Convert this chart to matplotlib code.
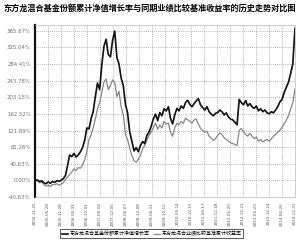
import matplotlib
matplotlib.use('Agg')
import matplotlib.pyplot as plt
import pandas as pd

plt.rcParams['font.family'] = ['Noto Sans CJK SC', 'DejaVu Sans']

title = '东方龙混合基金份额累计净值增长率与同期业绩比较基准收益率的历史走势对比图'
fund_label = '东方龙混合基金份额累计净值增长率'
bench_label = '东方龙混合业绩比较基准累计收益率'

# month-end points, first one is the fund start date
dates = [pd.Timestamp('2004-11-25')] + list(pd.date_range('2004-12-31', '2014-12-31', freq='ME'))

# cumulative NAV growth (%)
fund = [0, 1, -3, -1, -6, -8, -4, -7, -3, -5, -1, -2, 0, 4, 12, 35, 62, 58, 66, 57,
        62, 70, 80, 98, 128, 126, 152, 168, 205, 238, 222, 282, 328, 345, 308, 302, 342, 365, 300, 285,
        250, 232, 186, 165, 118, 95, 72, 80, 70, 86, 95, 90, 110, 118, 132, 150, 162, 146, 166, 158,
        175, 170, 180, 152, 138, 160, 176, 170, 182, 176, 190, 196, 186, 180, 188, 194, 200, 185, 178, 172,
        180, 168, 162, 158, 164, 166, 172, 168, 160, 165, 155, 150, 148, 142, 136, 198, 190, 185, 195, 182,
        188, 180, 176, 182, 170, 175, 168, 172, 165, 163, 168, 165, 172, 180, 192, 198, 215, 228, 240, 262,
        285, 372]

# benchmark cumulative return (%)
bench = [0, -2, -6, -4, -10, -14, -12, -15, -10, -11, -8, -12, -9, -6, 2, 8, 14, 20, 28, 24,
         31, 30, 38, 50, 70, 100, 112, 128, 150, 175, 190, 215, 240, 248, 222, 232, 246, 240, 205, 218,
         180, 160, 112, 100, 78, 60, 48, 44, 52, 62, 78, 85, 98, 110, 118, 128, 140, 125, 135, 128,
         144, 138, 140, 118, 108, 128, 140, 136, 144, 140, 152, 148, 145, 140, 148, 150, 138, 128, 122, 118,
         120, 108, 103, 98, 102, 110, 116, 112, 104, 100, 96, 92, 90, 88, 85, 122, 127, 118, 112, 108,
         115, 108, 102, 106, 96, 100, 94, 98, 100, 96, 102, 108, 112, 118, 122, 130, 138, 148, 158, 175,
         190, 224]

ytick_vals = [-40.63, 0.00, 40.63, 81.26, 121.89, 162.52, 203.15, 243.78, 284.41, 325.04, 365.67]
xtick_labels = ['2004-11-25', '2005-05-28', '2005-11-28', '2006-05-31', '2006-12-01', '2007-06-04',
                '2007-12-05', '2008-06-07', '2008-12-08', '2009-06-11', '2009-12-12', '2010-06-14',
                '2010-12-15', '2011-06-17', '2011-12-18', '2012-06-20', '2012-12-21', '2013-06-23',
                '2013-12-24', '2014-06-26', '2014-12-31']

fig = plt.figure(figsize=(3.0, 2.45), dpi=100)
ax = fig.add_axes([0.1167, 0.196, 0.8666, 0.702])

ax.plot(dates, bench, color='#858585', lw=0.9, label=bench_label, zorder=3)
ax.plot(dates, fund, color='#151515', lw=1.25, label=fund_label, zorder=4)

xticks = pd.to_datetime(xtick_labels)
ax.set_xticks(xticks)
ax.set_xticklabels(xtick_labels, rotation=90, fontsize=3.0, color='#555555', family='DejaVu Sans')
ax.set_yticks(ytick_vals)
ax.set_yticklabels(['%.2f%%' % v for v in ytick_vals], fontsize=3.9, color='#707070', family='DejaVu Sans')
ax.set_xlim(xticks[0], xticks[-1])
ax.set_ylim(-40.63, 380)
ax.tick_params(length=0, pad=3)
ax.tick_params(axis='x', pad=3.5)

# dotted grid like the original report chart
ax.grid(True, color='#9a9a9a', linestyle=(0, (1, 1.5)), linewidth=0.6)
for s in ['top', 'right', 'bottom']:
    ax.spines[s].set_color('#bbbbbb')
    ax.spines[s].set_linewidth(0.5)
ax.spines['left'].set_color('#111111')
ax.spines['left'].set_linewidth(1.6)

fig.text(0.5, 0.965, title, ha='center', va='center', fontsize=5.9, fontweight='bold')

handles, labels = ax.get_legend_handles_labels()
leg = fig.legend(handles[::-1], labels[::-1], loc='center', bbox_to_anchor=(0.506, 0.046), ncol=2,
                 fontsize=3.6, frameon=True, fancybox=False, edgecolor='#111111', handlelength=1.2,
                 handletextpad=0.4, columnspacing=0.8, borderpad=0.3)
leg.get_frame().set_linewidth(0.6)

plt.savefig('out.png', dpi=100)
